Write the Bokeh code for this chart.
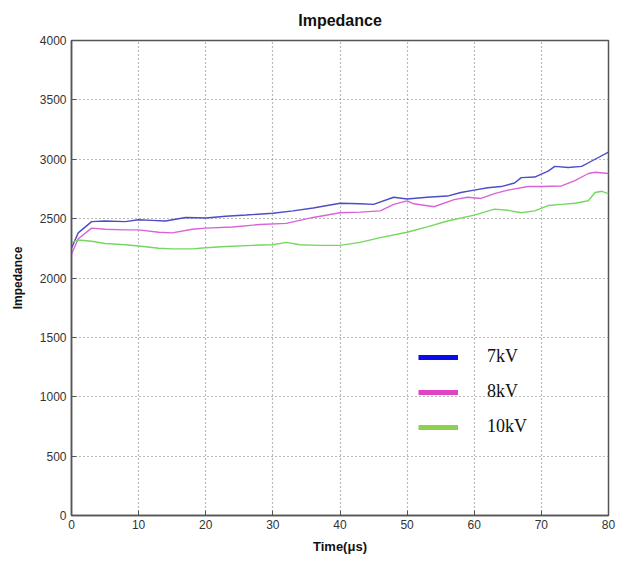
from bokeh.plotting import figure
from bokeh.models import Legend, LegendItem, Range1d
from bokeh.embed import file_html
from bokeh.resources import INLINE

# ---- data ----
x_7kv = [0, 1, 3, 5, 8, 10, 12, 14, 17, 20, 23, 26, 30, 33, 36, 40, 43, 45, 48, 50,
         53, 56, 58, 60, 62, 64, 66, 67, 69, 71, 72, 74, 76, 78, 80]
y_7kv = [2250, 2380, 2475, 2480, 2475, 2490, 2485, 2480, 2510, 2505, 2520, 2530, 2545,
         2565, 2590, 2630, 2625, 2620, 2680, 2665, 2680, 2690, 2720, 2740, 2760, 2770,
         2800, 2845, 2850, 2900, 2940, 2930, 2940, 3000, 3060]

x_8kv = [0, 1, 3, 5, 8, 10, 13, 15, 18, 20, 24, 28, 32, 36, 40, 43, 46, 48, 50, 51, 54,
         57, 59, 61, 63, 65, 68, 70, 73, 75, 77, 78, 80]
y_8kv = [2200, 2330, 2420, 2410, 2405, 2405, 2385, 2380, 2410, 2420, 2430, 2450, 2460,
         2510, 2550, 2555, 2565, 2620, 2650, 2625, 2600, 2660, 2680, 2670, 2710, 2740,
         2770, 2770, 2775, 2820, 2880, 2890, 2880]

x_10kv = [0, 1, 3, 5, 8, 10, 13, 15, 18, 20, 23, 27, 30, 32, 34, 37, 40, 43, 46, 50, 53,
          56, 60, 63, 65, 67, 69, 71, 73, 75, 77, 78, 79, 80]
y_10kv = [2300, 2320, 2310, 2290, 2280, 2270, 2250, 2245, 2245, 2255, 2265, 2275, 2280,
          2300, 2280, 2275, 2275, 2300, 2340, 2385, 2430, 2480, 2530, 2580, 2570, 2550,
          2565, 2610, 2620, 2630, 2650, 2720, 2730, 2710]

series_labels = ["7kV", "8kV", "10kV"]
x_ticks = [0, 10, 20, 30, 40, 50, 60, 70, 80]
y_ticks = [0, 500, 1000, 1500, 2000, 2500, 3000, 3500, 4000]

line_colors = ["#4c4cc8", "#d864d8", "#74d860"]
legend_colors = ["#0a0aee", "#e044c4", "#8cd050"]

p = figure(width=617, height=564, output_backend="svg", toolbar_location=None,
           x_range=Range1d(0, 80), y_range=Range1d(0, 4000),
           min_border_left=71, min_border_right=9, min_border_top=40, min_border_bottom=49)

p.title.text = "Impedance"
p.title.align = "center"
p.title.text_font = "Liberation Sans"
p.title.text_font_size = "16px"
p.title.text_font_style = "bold"
p.title.text_color = "#111111"
p.title.standoff = 20
p.title.vertical_align = "top"

p.background_fill_color = "white"
p.border_fill_color = "white"
p.outline_line_color = "#555555"
p.outline_line_width = 1.5

for ax in (p.xaxis[0], p.yaxis[0]):
    ax.major_tick_in = 5
    ax.major_tick_out = 0
    ax.minor_tick_in = 0
    ax.minor_tick_out = 0
    ax.axis_line_color = "#555555"
    ax.axis_line_width = 1.5
    ax.major_tick_line_color = "#555555"
    ax.major_label_text_font = "Liberation Sans"
    ax.major_label_text_font_size = "12px"
    ax.major_label_text_color = "#333333"
    ax.axis_label_text_font = "Liberation Sans"
    ax.axis_label_text_font_style = "bold"
    ax.axis_label_text_color = "#111111"

p.xaxis.ticker = x_ticks
p.yaxis.ticker = y_ticks
p.xaxis.axis_label = "Time(μs)"
p.xaxis.axis_label_text_font_size = "13px"
p.xaxis.axis_label_standoff = 7
p.xaxis.major_label_standoff = 4
p.yaxis.axis_label = "Impedance"
p.yaxis.axis_label_text_font_size = "12px"
p.yaxis.axis_label_standoff = 12
p.yaxis.major_label_standoff = 5

p.xgrid.ticker = x_ticks
p.ygrid.ticker = y_ticks
p.grid.grid_line_color = "#777777"
p.grid.grid_line_dash = "1 3"
p.grid.grid_line_width = 1.2

p.line(x_7kv, y_7kv, line_color=line_colors[0], line_width=1.4)
p.line(x_8kv, y_8kv, line_color=line_colors[1], line_width=1.4)
p.line(x_10kv, y_10kv, line_color=line_colors[2], line_width=1.4)

nan = float("nan")
items = []
for lab, col in zip(series_labels, legend_colors):
    r = p.line(x=[nan], y=[nan], line_color=col, line_width=5)
    items.append(LegendItem(label=lab, renderers=[r]))

legend = Legend(items=items, location=(347, 78))
legend.border_line_color = None
legend.background_fill_alpha = 0
legend.padding = 0
legend.margin = 0
legend.glyph_width = 40
legend.glyph_height = 20
legend.label_height = 20
legend.spacing = 14
legend.label_standoff = 29
legend.label_text_font = "Liberation Serif"
legend.label_text_font_size = "18px"
legend.label_text_color = "#111111"
p.add_layout(legend, "center")

open("out.html", "w").write(file_html(p, INLINE))
